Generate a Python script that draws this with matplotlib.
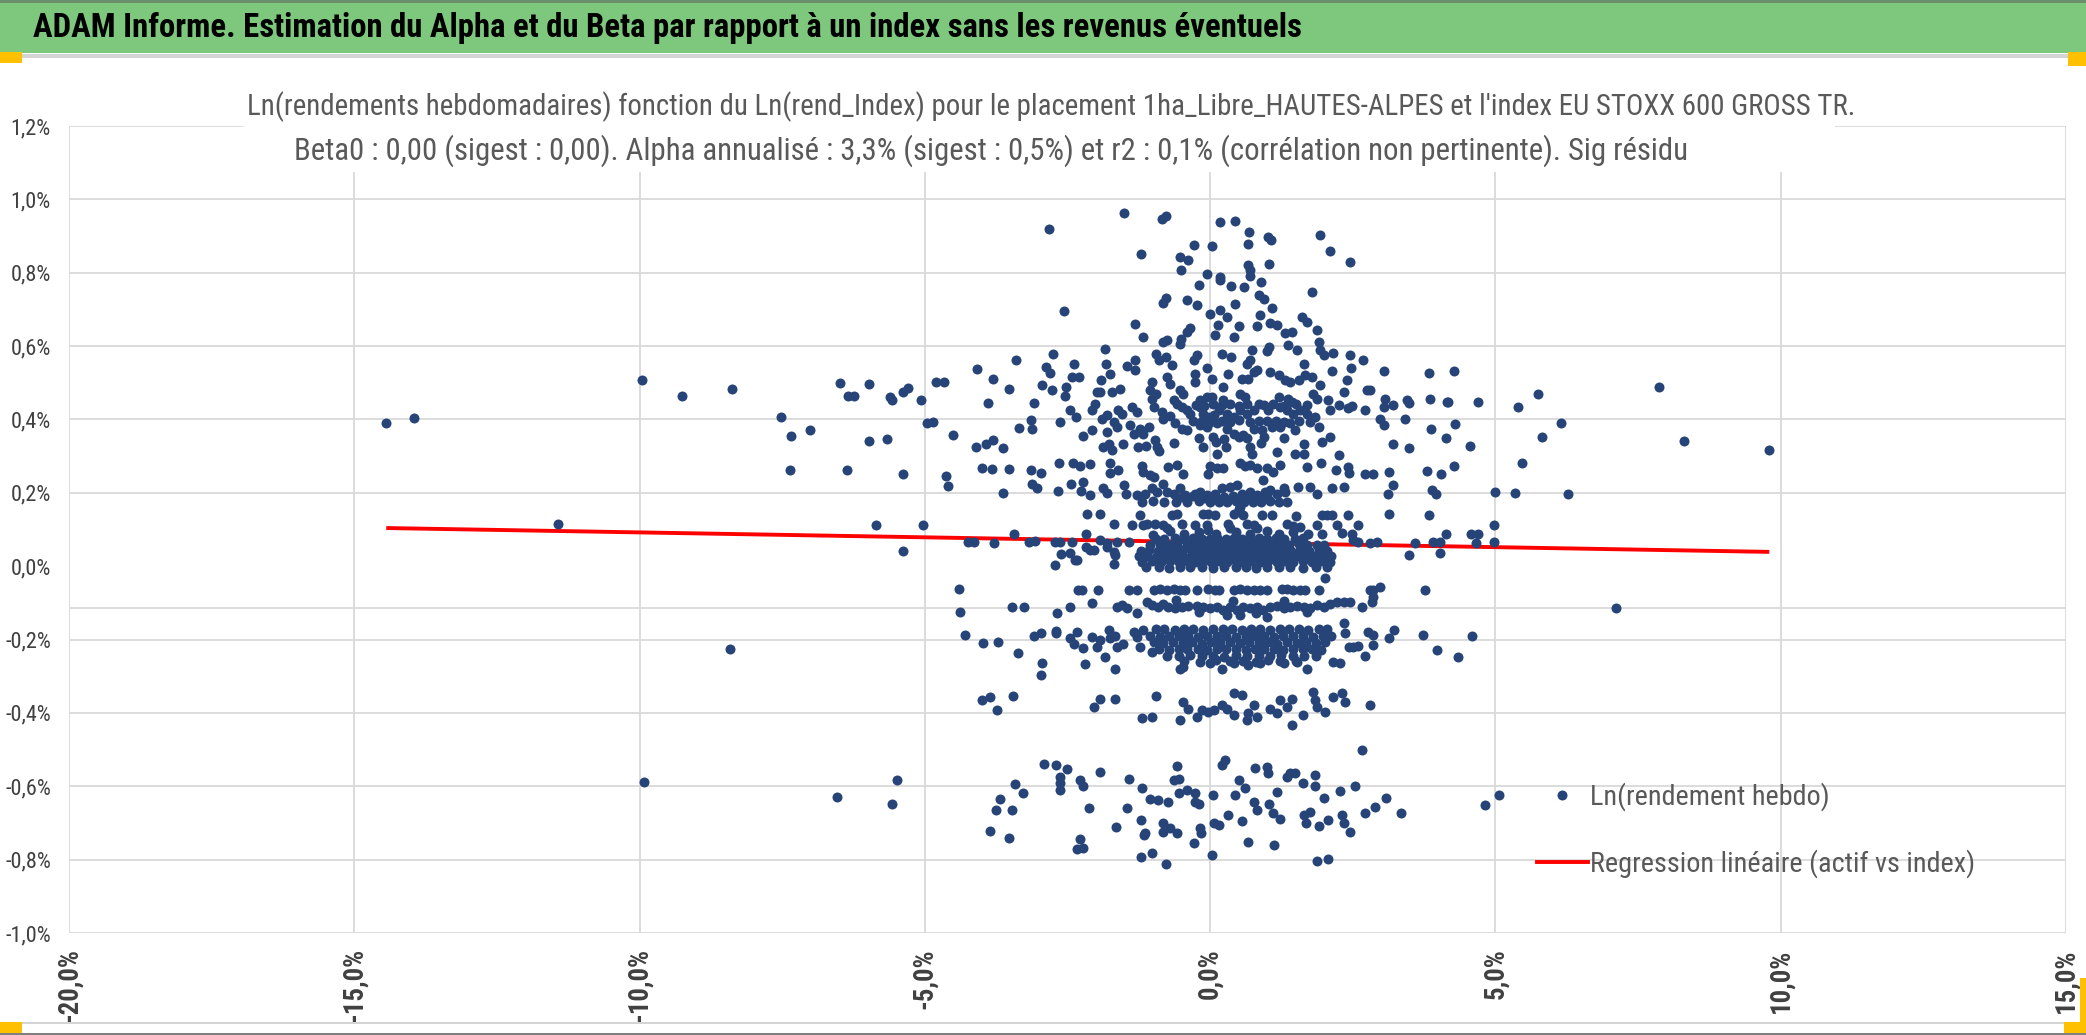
import os
import matplotlib
matplotlib.use("Agg")
import matplotlib.pyplot as plt
import matplotlib.patches as patches
from matplotlib import font_manager as fm
from matplotlib.lines import Line2D
import numpy as np

W, H = 2086, 1035
DOT = '#264478'
GRID = '#d9d9d9'
TXT = '#595959'

header = "ADAM Informe. Estimation du Alpha et du Beta par rapport à un index sans les revenus éventuels"
title1 = ("Ln(rendements hebdomadaires) fonction du Ln(rend_Index) pour le placement "
          "1ha_Libre_HAUTES-ALPES et l'index EU STOXX 600 GROSS TR.")
title2 = ("Beta0 : 0,00 (sigest : 0,00). Alpha annualisé : 3,3% (sigest : 0,5%) et r2 : 0,1% "
          "(corrélation non pertinente). Sig résidu")
label_pts = "Ln(rendement hebdo)"
label_reg = "Regression linéaire (actif vs index)"

x_ticks = [-20, -15, -10, -5, 0, 5, 10, 15]
y_ticks = [-1.0, -0.8, -0.6, -0.4, -0.2, 0.0, 0.2, 0.4, 0.6, 0.8, 1.0, 1.2]
axis_cross = -0.115   # horizontal axis line drawn by the source chart

# regression line end points (x %, y %)
reg_x = [-14.44, 9.80]
reg_y = [0.104, 0.039]

# weekly points, (index %, fund %)
far_pts = [(-14.44, 0.391), (-13.96, 0.404), (-11.43, 0.116), (-9.96, 0.507), (-9.25, 0.464),
           (-8.38, 0.484), (-8.42, -0.227), (-9.92, -0.588)]

left_pts = [(-7.52, 0.407), (-7.35, 0.355), (-7.36, 0.261), (-7.01, 0.370), (-6.48, 0.499),
            (-6.34, 0.464), (-6.25, 0.464), (-5.98, 0.496), (-6.36, 0.261), (-5.98, 0.342),
            (-5.86, 0.111), (-5.61, 0.460), (-5.58, 0.452), (-5.67, 0.347), (-5.39, 0.475),
            (-5.29, 0.486), (-5.38, 0.250), (-5.39, 0.041), (-5.06, 0.454), (-5.04, 0.111),
            (-4.96, 0.389), (-4.86, 0.392), (-4.81, 0.503), (-4.67, 0.503), (-4.50, 0.358),
            (-4.63, 0.246), (-4.59, 0.219), (-4.41, -0.063), (-4.38, -0.124), (-4.30, -0.188),
            (-4.25, 0.065), (-4.14, 0.065), (-4.08, 0.537), (-3.81, 0.511), (-3.89, 0.444),
            (-4.11, 0.324), (-3.93, 0.332), (-3.80, 0.345), (-4.00, 0.267), (-3.83, 0.264),
            (-3.78, 0.063), (-3.98, -0.209), (-3.71, -0.207), (-3.86, -0.357), (-3.99, -0.365),
            (-3.74, -0.392), (-6.54, -0.628), (-5.49, -0.584), (-5.58, -0.647), (-3.68, -0.635),
            (-3.76, -0.664), (-3.85, -0.723)]

upper_pts = [(-1.51, 0.964), (-2.82, 0.920), (-0.84, 0.947), (-0.78, 0.956), (0.18, 0.938),
             (0.43, 0.941), (0.68, 0.911), (0.67, 0.879), (1.01, 0.897), (1.06, 0.888),
             (1.92, 0.904), (2.10, 0.858), (2.45, 0.829), (-0.29, 0.876), (0.04, 0.873),
             (-1.21, 0.850), (-0.53, 0.843), (-0.39, 0.834), (-0.51, 0.808), (-0.06, 0.796),
             (0.67, 0.820), (0.69, 0.808), (0.70, 0.790), (1.04, 0.823), (0.18, 0.787),
             (0.18, 0.779), (-0.20, 0.767), (0.36, 0.763), (0.60, 0.761), (0.89, 0.775),
             (1.78, 0.747), (-0.78, 0.732), (-0.83, 0.718), (-0.41, 0.725), (-0.23, 0.711),
             (0.44, 0.716), (0.86, 0.738), (0.94, 0.728), (1.08, 0.704), (-2.56, 0.695),
             (-0.01, 0.688), (0.18, 0.699), (0.30, 0.679), (-1.31, 0.659), (-0.35, 0.648),
             (-0.40, 0.639), (0.13, 0.657), (0.51, 0.654), (0.88, 0.684), (0.82, 0.654),
             (1.05, 0.663), (1.17, 0.657), (1.61, 0.679), (1.69, 0.666), (1.87, 0.645),
             (-1.18, 0.625), (0.08, 0.629), (0.41, 0.625), (1.31, 0.636), (1.43, 0.639),
             (-0.51, 0.620), (-0.53, 0.607), (-0.82, 0.611), (-0.75, 0.616), (-1.85, 0.593),
             (1.37, 0.602), (1.52, 0.590), (1.90, 0.611), (1.93, 0.589), (1.99, 0.575),
             (0.99, 0.587), (1.04, 0.598), (0.73, 0.589), (0.20, 0.579), (0.36, 0.569),
             (-0.23, 0.575), (-0.28, 0.561), (-0.95, 0.578), (-0.90, 0.561), (-0.78, 0.570),
             (-0.67, 0.548), (-1.31, 0.561), (-1.46, 0.545), (-1.31, 0.536), (-1.82, 0.552),
             (-1.75, 0.525), (-2.76, 0.578), (-3.40, 0.563), (-2.87, 0.543), (-2.80, 0.527),
             (-2.39, 0.550), (-2.42, 0.516), (-2.29, 0.516), (2.16, 0.581), (2.45, 0.575),
             (2.47, 0.539), (2.68, 0.561), (2.14, 0.531), (1.65, 0.550), (0.64, 0.552),
             (0.70, 0.561), (-0.05, 0.539), (-0.26, 0.525), (-0.26, 0.502), (0.04, 0.509),
             (0.32, 0.525), (0.76, 0.530), (0.82, 0.534), (1.05, 0.530), (1.21, 0.520),
             (1.31, 0.507), (1.40, 0.502), (1.55, 0.507), (1.66, 0.520), (1.78, 0.516),
             (2.39, 0.507), (3.04, 0.531), (3.84, 0.528), (1.93, 0.493), (0.55, 0.509),
             (0.67, 0.509), (0.23, 0.489), (-0.76, 0.516), (-0.71, 0.496), (-1.02, 0.502),
             (-1.05, 0.480), (-1.91, 0.507), (-2.52, 0.489), (-2.95, 0.493), (-3.52, 0.484),
             (-2.77, 0.481), (-2.55, 0.463), (-1.99, 0.474), (-1.93, 0.475), (-1.72, 0.475),
             (-1.58, 0.484), (-0.53, 0.480), (-0.47, 0.470), (-0.18, 0.452), (-0.06, 0.461),
             (0.03, 0.461), (0.23, 0.452), (0.53, 0.470), (0.61, 0.461), (1.20, 0.461),
             (1.37, 0.457), (1.43, 0.448), (1.81, 0.470), (1.87, 0.457), (2.34, 0.475),
             (2.75, 0.480), (2.80, 0.480), (3.07, 0.457), (3.86, 0.457), (4.15, 0.448),
             (3.45, 0.452), (3.48, 0.445), (3.20, 0.439), (2.07, 0.452), (2.10, 0.425),
             (2.25, 0.439), (2.42, 0.430), (2.48, 0.436), (2.72, 0.427), (3.04, 0.434),
             (-3.08, 0.445), (-2.45, 0.427), (-2.35, 0.407), (-2.07, 0.425), (-2.02, 0.443),
             (-1.89, 0.402), (-1.81, 0.411), (-1.61, 0.425), (-1.55, 0.416), (-1.37, 0.434),
             (-1.29, 0.421), (-1.02, 0.457), (-0.98, 0.434), (-0.64, 0.452), (-0.58, 0.443),
             (-0.50, 0.434), (-0.41, 0.425), (-0.35, 0.416), (-0.18, 0.434), (-0.12, 0.416),
             (-0.03, 0.407), (0.06, 0.411), (0.15, 0.425), (0.29, 0.416), (0.41, 0.407),
             (0.53, 0.425), (0.64, 0.416), (0.76, 0.425), (0.85, 0.443), (1.02, 0.427),
             (1.23, 0.434), (1.34, 0.425), (1.46, 0.416), (1.58, 0.425), (1.69, 0.416),
             (1.84, 0.407), (1.90, 0.380), (-0.82, 0.402), (-3.14, 0.398), (-3.12, 0.375),
             (-3.35, 0.378), (-2.64, 0.393), (-2.22, 0.354), (-2.07, 0.372), (-1.80, 0.366),
             (-1.69, 0.393), (-1.64, 0.380), (-1.40, 0.384), (-1.34, 0.361), (-1.23, 0.375),
             (-1.17, 0.361), (-1.08, 0.380), (-0.49, 0.375), (-0.18, 0.384), (-0.06, 0.380),
             (0.12, 0.389), (0.29, 0.375), (0.41, 0.361), (0.58, 0.357), (0.76, 0.375),
             (0.91, 0.371), (1.08, 0.380), (1.23, 0.380), (1.40, 0.389), (1.49, 0.371),
             (2.98, 0.400), (3.04, 0.384), (3.41, 0.400), (3.87, 0.375), (4.14, 0.350),
             (3.21, 0.334), (3.49, 0.321), (1.96, 0.339), (2.10, 0.352), (1.64, 0.334),
             (-3.63, 0.321), (-1.87, 0.325), (-1.78, 0.334), (-1.72, 0.318), (-1.52, 0.334),
             (-1.27, 0.325), (-1.12, 0.328), (-0.96, 0.343), (-0.93, 0.325), (-0.89, 0.314),
             (-0.63, 0.336), (-0.12, 0.325), (0.11, 0.339), (0.12, 0.307), (0.27, 0.325),
             (0.70, 0.325), (0.73, 0.307), (0.89, 0.336), (1.17, 0.312), (2.25, 0.302),
             (1.49, 0.305), (1.64, 0.305), (-1.75, 0.282), (-3.52, 0.265), (-3.14, 0.262),
             (-2.97, 0.253), (-2.65, 0.280), (-2.41, 0.280), (-2.28, 0.272), (-2.11, 0.278),
             (-1.75, 0.254), (-1.61, 0.263), (-1.20, 0.272), (-1.17, 0.257), (-1.05, 0.248),
             (-0.99, 0.243), (-0.73, 0.271), (-0.58, 0.275), (-0.47, 0.252), (0.00, 0.272),
             (0.12, 0.269), (0.22, 0.269), (-0.03, 0.252), (0.53, 0.280), (0.61, 0.272),
             (0.70, 0.275), (0.82, 0.269), (0.99, 0.269), (1.11, 0.257), (1.22, 0.275),
             (0.93, 0.234), (1.70, 0.271), (1.95, 0.280), (2.21, 0.262), (2.42, 0.271),
             (2.44, 0.254), (2.72, 0.252), (2.86, 0.250), (3.14, 0.257), (3.80, 0.259),
             (4.04, 0.250), (-3.13, 0.225), (-3.04, 0.214), (-2.43, 0.225), (-2.22, 0.230),
             (-3.63, 0.200), (-2.67, 0.205), (-2.27, 0.205), (-2.10, 0.195), (-1.88, 0.212),
             (-1.81, 0.200), (-1.51, 0.221), (-1.47, 0.198), (-1.29, 0.193), (-1.14, 0.198),
             (-1.02, 0.212), (-0.93, 0.203), (-0.82, 0.225), (-0.76, 0.203), (-0.64, 0.198),
             (-0.53, 0.212), (-0.44, 0.193), (-0.26, 0.198), (-0.18, 0.203), (-0.06, 0.193),
             (0.09, 0.198), (0.20, 0.212), (0.35, 0.216), (0.47, 0.221), (0.55, 0.198),
             (0.70, 0.203), (0.82, 0.193), (0.96, 0.203), (1.05, 0.207), (1.17, 0.198),
             (1.29, 0.212), (1.31, 0.203), (1.54, 0.216), (1.75, 0.216), (1.88, 0.196),
             (2.14, 0.212), (2.34, 0.216), (3.11, 0.198), (3.21, 0.221), (3.89, 0.207),
             (3.95, 0.198), (0.53, 0.160)]

lower_pts = [(-2.15, 0.142), (-1.93, 0.142), (-1.23, 0.139), (-0.67, 0.139), (-0.58, 0.142),
             (-0.12, 0.142), (-0.03, 0.142), (0.09, 0.139), (0.41, 0.142), (0.51, 0.157),
             (0.58, 0.139), (0.91, 0.139), (1.08, 0.139), (1.51, 0.136), (1.96, 0.139),
             (2.04, 0.139), (2.13, 0.139), (2.42, 0.139), (3.14, 0.142), (3.83, 0.139),
             (-1.69, 0.114), (-1.37, 0.112), (-1.17, 0.112), (-1.11, 0.116), (-0.96, 0.114),
             (-0.82, 0.112), (-0.76, 0.103), (-0.50, 0.114), (-0.26, 0.112), (-0.06, 0.112),
             (-0.03, 0.098), (0.32, 0.116), (0.35, 0.103), (0.64, 0.114), (0.76, 0.112),
             (0.82, 0.103), (1.34, 0.114), (1.46, 0.109), (1.58, 0.107), (1.87, 0.112),
             (2.22, 0.112), (2.60, 0.112), (1.72, 0.089), (1.96, 0.089), (2.31, 0.091),
             (2.48, 0.089), (-3.43, 0.089), (-2.17, 0.089), (-3.17, 0.066), (-3.07, 0.069),
             (-2.72, 0.066), (-2.64, 0.066), (-2.42, 0.066), (-1.93, 0.071), (-1.81, 0.062),
             (-1.64, 0.066), (-1.43, 0.066), (2.51, 0.071), (2.60, 0.066), (2.80, 0.062),
             (2.92, 0.066), (3.59, 0.064), (3.91, 0.066), (4.03, 0.066), (4.14, 0.089),
             (3.48, 0.030), (4.02, 0.035), (-2.62, 0.033), (-2.45, 0.035), (-2.37, 0.018),
             (-2.34, 0.016), (-2.72, 0.003), (-2.17, 0.053), (-2.11, 0.044), (-2.04, 0.044),
             (-1.69, 0.039), (-1.81, 0.053), (-1.66, 0.030), (-1.69, 0.005), (2.02, -0.031),
             (-1.00, 0.085), (-0.70, 0.095), (-0.45, 0.088), (-0.20, 0.093), (0.10, 0.087),
             (0.45, 0.092), (0.70, 0.088), (1.00, 0.095), (1.20, 0.087), (1.45, 0.092),
             # band near -0,06 %
             (-2.31, -0.065), (-2.25, -0.064), (-1.96, -0.064), (-1.43, -0.064), (-1.29, -0.064),
             (-0.99, -0.065), (-0.88, -0.063), (-0.76, -0.065), (-0.64, -0.063), (-0.53, -0.064),
             (-0.44, -0.066), (-0.23, -0.064), (-0.03, -0.063), (0.09, -0.064), (0.15, -0.066),
             (0.41, -0.065), (0.53, -0.061), (0.64, -0.066), (0.76, -0.064), (0.88, -0.064),
             (0.99, -0.066), (1.26, -0.061), (1.34, -0.061), (1.46, -0.066), (1.58, -0.066),
             (1.66, -0.066), (1.90, -0.066), (2.80, -0.065), (2.86, -0.064), (2.98, -0.056),
             (3.77, -0.064),
             # band near -0,1 %
             (-3.48, -0.111), (-3.27, -0.111), (-2.68, -0.127), (-2.45, -0.111), (-2.07, -0.100),
             (-1.64, -0.111), (-1.55, -0.106), (-1.46, -0.115), (-1.29, -0.127), (-1.11, -0.097),
             (-1.02, -0.106), (-0.91, -0.111), (-0.82, -0.102), (-0.73, -0.111), (-0.61, -0.115),
             (-0.50, -0.111), (-0.38, -0.109), (-0.23, -0.109), (-0.12, -0.111), (0.00, -0.115),
             (0.12, -0.111), (0.23, -0.120), (0.35, -0.111), (0.47, -0.120), (0.58, -0.111),
             (0.70, -0.115), (0.82, -0.111), (0.93, -0.120), (1.05, -0.111), (1.17, -0.109),
             (1.29, -0.115), (1.40, -0.111), (1.52, -0.109), (1.64, -0.111), (1.75, -0.115),
             (1.87, -0.106), (1.99, -0.111), (2.10, -0.102), (2.22, -0.097), (2.34, -0.097),
             (2.45, -0.097), (2.66, -0.111), (2.84, -0.097), (2.86, -0.084), (0.29, -0.133),
             (0.53, -0.133), (0.99, -0.138), (-0.60, -0.092), (-0.20, -0.125), (0.40, -0.095),
             (0.80, -0.128), (1.30, -0.095), (1.70, -0.125),
             # band near -0,2 %, edges
             (-3.36, -0.238), (-3.09, -0.191), (-2.97, -0.182), (-2.95, -0.265), (-2.97, -0.297),
             (-2.70, -0.176), (-2.70, -0.183), (-2.45, -0.197), (-2.39, -0.211), (-2.34, -0.179),
             (-2.22, -0.224), (-2.19, -0.267), (-2.07, -0.193), (-1.99, -0.220), (-1.93, -0.202),
             (-1.84, -0.247), (-1.78, -0.173), (-1.75, -0.197), (-1.66, -0.191), (-1.64, -0.220),
             (-1.66, -0.279), (-1.52, -0.211), (-1.34, -0.179), (-1.29, -0.193), (-1.23, -0.220),
             (-1.17, -0.173), (-1.02, -0.233), (-0.53, -0.279), (-0.47, -0.274), (0.00, -0.265),
             (0.20, -0.279), (0.41, -0.265), (0.67, -0.270), (0.88, -0.265), (1.29, -0.265),
             (1.52, -0.261), (1.69, -0.279), (2.16, -0.261), (2.28, -0.265), (2.37, -0.183),
             (2.43, -0.220), (2.51, -0.220), (2.60, -0.218), (2.72, -0.245), (2.77, -0.179),
             (2.86, -0.215), (2.86, -0.188), (3.13, -0.197), (3.22, -0.174), (3.73, -0.188),
             (3.98, -0.229), (2.34, -0.156),
             # band near -0,4 %
             (-3.46, -0.354), (-2.04, -0.383), (-1.93, -0.361), (-1.66, -0.361), (-1.20, -0.415),
             (-1.02, -0.411), (-0.95, -0.354), (-0.53, -0.418), (-0.47, -0.370), (-0.38, -0.388),
             (-0.23, -0.411), (-0.15, -0.392), (-0.03, -0.397), (0.06, -0.392), (0.20, -0.379),
             (0.29, -0.388), (0.41, -0.406), (0.41, -0.347), (0.55, -0.352), (0.64, -0.420),
             (0.67, -0.401), (0.76, -0.379), (0.82, -0.411), (1.05, -0.388), (1.17, -0.401),
             (1.22, -0.365), (1.34, -0.383), (1.43, -0.361), (1.43, -0.433), (1.62, -0.406),
             (1.81, -0.342), (1.84, -0.365), (1.87, -0.383), (2.02, -0.397), (2.16, -0.356),
             (2.31, -0.345), (2.37, -0.370), (2.80, -0.379),
             # -0,5 % to -0,8 %
             (2.66, -0.500), (-2.91, -0.538), (-2.70, -0.542), (-2.51, -0.554), (-2.63, -0.574),
             (-2.63, -0.592), (-2.64, -0.609), (-2.28, -0.583), (-2.23, -0.599), (-1.93, -0.560),
             (-3.42, -0.594), (-3.28, -0.619), (-3.48, -0.665), (-3.52, -0.742), (-2.13, -0.660),
             (-2.28, -0.745), (-2.34, -0.772), (-2.23, -0.768), (-1.65, -0.710), (-1.43, -0.579),
             (-1.45, -0.658), (-1.20, -0.606), (-1.06, -0.635), (-0.91, -0.638), (-0.73, -0.642),
             (-1.22, -0.692), (-1.14, -0.728), (-1.16, -0.733), (-1.22, -0.792), (-1.02, -0.781),
             (-0.78, -0.812), (-0.82, -0.701), (-0.83, -0.724), (-0.70, -0.715), (-0.58, -0.728),
             (-0.58, -0.545), (-0.64, -0.583), (-0.54, -0.579), (-0.54, -0.619), (-0.41, -0.610),
             (-0.26, -0.619), (-0.26, -0.642), (-0.19, -0.647), (-0.18, -0.715), (-0.16, -0.728),
             (-0.29, -0.756), (0.05, -0.624), (0.06, -0.701), (0.16, -0.706), (0.03, -0.787),
             (0.20, -0.542), (0.26, -0.529), (0.32, -0.678), (0.44, -0.624), (0.51, -0.583),
             (0.61, -0.606), (0.55, -0.694), (0.67, -0.751), (0.76, -0.642), (0.82, -0.664),
             (0.79, -0.551), (0.99, -0.547), (1.02, -0.565), (1.04, -0.648), (1.11, -0.672),
             (1.22, -0.688), (1.17, -0.615), (1.12, -0.760), (1.34, -0.574), (1.40, -0.565),
             (1.49, -0.563), (1.62, -0.592), (1.83, -0.569), (1.84, -0.599), (1.99, -0.633),
             (1.64, -0.678), (1.68, -0.699), (1.75, -0.669), (1.90, -0.708), (2.07, -0.692),
             (2.27, -0.612), (2.31, -0.678), (2.34, -0.699), (2.45, -0.724), (2.54, -0.599),
             (2.72, -0.674), (2.89, -0.656), (3.08, -0.633), (3.35, -0.674), (1.87, -0.805),
             (2.07, -0.799)]

right_pts = [(4.28, 0.533), (4.16, 0.447), (4.70, 0.447), (4.29, 0.387), (4.55, 0.328),
             (4.28, 0.272), (5.00, 0.202), (5.34, 0.199), (6.28, 0.196), (5.40, 0.433),
             (5.74, 0.469), (6.15, 0.389), (5.81, 0.352), (5.46, 0.281), (7.86, 0.489),
             (8.31, 0.340), (9.80, 0.318), (4.98, 0.111), (4.57, 0.087), (4.70, 0.087),
             (4.66, 0.062), (4.98, 0.065), (7.12, -0.114), (4.59, -0.190), (4.34, -0.248),
             (4.82, -0.652), (5.07, -0.623)]

# the dense cluster around 0 %
core_pts = [(-0.95, 0.075), (-0.80, 0.073), (-0.62, 0.076), (-0.45, 0.074), (-0.30, 0.077),
            (-0.15, 0.075), (0.00, 0.073), (0.12, 0.076), (0.28, 0.074), (0.42, 0.077),
            (0.55, 0.075), (0.70, 0.073), (0.85, 0.076), (1.00, 0.074), (1.15, 0.077),
            (1.30, 0.075), (1.48, 0.073), (1.62, 0.076),
            (-1.05, 0.058), (-0.88, 0.060), (-0.72, 0.057), (-0.58, 0.059), (-0.40, 0.058),
            (-0.25, 0.061), (-0.10, 0.057), (0.05, 0.059), (0.20, 0.058), (0.33, 0.060),
            (0.48, 0.057), (0.62, 0.059), (0.78, 0.058), (0.92, 0.061), (1.08, 0.057),
            (1.22, 0.059), (1.38, 0.058), (1.55, 0.060), (1.70, 0.057), (1.88, 0.059),
            (2.00, 0.058),
            (-1.22, 0.042), (-1.08, 0.044), (-0.92, 0.041), (-0.78, 0.043), (-0.62, 0.042),
            (-0.48, 0.045), (-0.32, 0.041), (-0.18, 0.043), (-0.02, 0.042), (0.12, 0.044),
            (0.27, 0.041), (0.40, 0.043), (0.55, 0.042), (0.70, 0.045), (0.84, 0.041),
            (0.98, 0.043), (1.12, 0.042), (1.28, 0.044), (1.42, 0.041), (1.58, 0.043),
            (1.73, 0.042), (1.90, 0.044), (2.05, 0.041),
            (-1.25, 0.027), (-1.10, 0.029), (-0.95, 0.026), (-0.80, 0.028), (-0.65, 0.027),
            (-0.50, 0.030), (-0.35, 0.026), (-0.20, 0.028), (-0.05, 0.027), (0.08, 0.029),
            (0.22, 0.026), (0.36, 0.028), (0.50, 0.027), (0.65, 0.030), (0.80, 0.026),
            (0.94, 0.028), (1.08, 0.027), (1.24, 0.029), (1.38, 0.026), (1.52, 0.028),
            (1.68, 0.027), (1.84, 0.029), (2.00, 0.026), (2.12, 0.028),
            (-1.20, 0.012), (-1.02, 0.014), (-0.86, 0.011), (-0.70, 0.013), (-0.55, 0.012),
            (-0.40, 0.015), (-0.26, 0.011), (-0.12, 0.013), (0.02, 0.012), (0.16, 0.014),
            (0.30, 0.011), (0.45, 0.013), (0.58, 0.012), (0.72, 0.015), (0.88, 0.011),
            (1.02, 0.013), (1.17, 0.012), (1.32, 0.014), (1.46, 0.011), (1.62, 0.013),
            (1.78, 0.012), (1.95, 0.014), (2.10, 0.011),
            (-1.12, -0.003), (-0.90, -0.001), (-0.72, -0.004), (-0.52, -0.002), (-0.35, -0.003),
            (-0.15, -0.001), (0.05, -0.004), (0.25, -0.002), (0.45, -0.003), (0.62, -0.001),
            (0.80, -0.004), (1.00, -0.002), (1.20, -0.003), (1.40, -0.001), (1.62, -0.004),
            (1.85, -0.002), (2.05, -0.003)]

# dense part of the band near -0,2 %
band2_pts = [(-0.95, -0.172), (-0.80, -0.170), (-0.62, -0.173), (-0.45, -0.171), (-0.30, -0.172),
             (-0.12, -0.174), (0.05, -0.170), (0.22, -0.172), (0.38, -0.171), (0.55, -0.173),
             (0.72, -0.170), (0.88, -0.172), (1.05, -0.174), (1.22, -0.171), (1.38, -0.172),
             (1.55, -0.170), (1.72, -0.173), (1.90, -0.171), (2.05, -0.172),
             (-1.05, -0.190), (-0.88, -0.192), (-0.72, -0.189), (-0.55, -0.191), (-0.38, -0.190),
             (-0.22, -0.193), (-0.05, -0.189), (0.12, -0.191), (0.28, -0.190), (0.45, -0.192),
             (0.62, -0.189), (0.78, -0.191), (0.95, -0.190), (1.12, -0.193), (1.28, -0.189),
             (1.45, -0.191), (1.62, -0.190), (1.80, -0.192), (1.98, -0.189), (2.12, -0.191),
             (-0.98, -0.208), (-0.82, -0.210), (-0.65, -0.207), (-0.48, -0.209), (-0.32, -0.208),
             (-0.15, -0.211), (0.02, -0.207), (0.18, -0.209), (0.35, -0.208), (0.52, -0.210),
             (0.68, -0.207), (0.85, -0.209), (1.02, -0.208), (1.18, -0.211), (1.35, -0.207),
             (1.52, -0.209), (1.68, -0.208), (1.85, -0.210), (2.02, -0.207),
             (-0.90, -0.226), (-0.72, -0.228), (-0.55, -0.225), (-0.40, -0.227), (-0.22, -0.226),
             (-0.05, -0.229), (0.12, -0.225), (0.28, -0.227), (0.45, -0.226), (0.62, -0.228),
             (0.78, -0.225), (0.95, -0.227), (1.12, -0.226), (1.28, -0.229), (1.45, -0.225),
             (1.62, -0.227), (1.78, -0.226), (1.95, -0.228),
             (-0.75, -0.244), (-0.55, -0.246), (-0.35, -0.243), (-0.15, -0.245), (0.05, -0.244),
             (0.25, -0.247), (0.45, -0.243), (0.65, -0.245), (0.85, -0.244), (1.05, -0.246),
             (1.25, -0.243), (1.45, -0.245), (1.65, -0.244), (1.85, -0.246),
             (-0.45, -0.258), (-0.18, -0.260), (0.10, -0.257), (0.35, -0.259), (0.58, -0.258),
             (0.80, -0.261), (1.02, -0.257), (1.22, -0.259), (1.50, -0.258)]

# dense parts of the bands near 0,4 % and 0,2 %
band_up_pts = [(-0.25, 0.440), (-0.10, 0.438), (0.05, 0.442), (0.20, 0.439), (0.35, 0.441),
               (0.50, 0.438), (0.65, 0.443), (0.95, 0.439), (1.10, 0.441), (1.30, 0.438),
               (1.50, 0.442), (1.70, 0.439),
               (-0.30, 0.395), (-0.15, 0.397), (0.00, 0.393), (0.20, 0.396), (0.35, 0.394),
               (0.50, 0.398), (0.70, 0.393), (0.85, 0.396), (1.00, 0.395), (1.15, 0.397),
               (1.30, 0.393), (1.55, 0.396), (1.75, 0.394),
               (-0.20, 0.350), (0.05, 0.352), (0.25, 0.348), (0.50, 0.351), (0.65, 0.349),
               (0.95, 0.352), (1.30, 0.350), (-0.95, 0.470), (-0.85, 0.420), (-0.70, 0.410),
               (-0.62, 0.390), (-0.40, 0.370),
               (-1.20, 0.175), (-1.00, 0.177), (-0.80, 0.174), (-0.60, 0.176), (-0.40, 0.175),
               (-0.20, 0.178), (0.00, 0.174), (0.15, 0.176), (0.30, 0.175), (0.45, 0.177),
               (0.60, 0.174), (0.75, 0.176), (0.90, 0.175), (1.05, 0.178), (1.20, 0.174),
               (1.35, 0.176),
               (-0.50, 0.188), (-0.30, 0.190), (-0.10, 0.187), (0.08, 0.189), (0.25, 0.188),
               (0.40, 0.191), (0.62, 0.187), (0.70, 0.189), (0.88, 0.188), (1.00, 0.190)]

groups = [far_pts, left_pts, upper_pts, lower_pts, right_pts, core_pts, band2_pts, band_up_pts]
pts = np.array([p for g in groups for p in g])
px, py = pts[:, 0], pts[:, 1]


def find_font(stems, fallback):
    files = {os.path.splitext(os.path.basename(f.fname))[0].lower(): f.fname
             for f in fm.fontManager.ttflist}
    for s in stems:
        if s.lower() in files:
            return fm.FontProperties(fname=files[s.lower()])
    return fallback


# a narrow face close to the Calibri of the source, if one is installed
REG = find_font(['LiberationSansNarrow-Regular', 'RobotoCondensed-Regular', 'Roboto-Condensed',
                 'NotoSans-Condensed', 'OpenSans-CondensedRegular', 'OpenSans_Condensed-Regular',
                 'DejaVuSansCondensed'],
                fm.FontProperties(family='DejaVu Sans'))
BOLD = find_font(['LiberationSansNarrow-Bold', 'RobotoCondensed-Bold', 'Roboto-BoldCondensed',
                  'NotoSans-CondensedBold', 'OpenSans-CondensedBold', 'OpenSans_Condensed-Bold',
                  'DejaVuSansCondensed-Bold'],
                 fm.FontProperties(family='DejaVu Sans', weight='bold'))


def pct(v):
    return f"{v:.1f}%".replace('.', ',')


fig = plt.figure(figsize=(W / 100, H / 100), dpi=100)
fig.patch.set_facecolor('white')
renderer = fig.canvas.get_renderer()


def sized(fp, s, width_px):
    # font size that gives the text the width it has in the source picture
    p = fp.copy()
    p.set_size(20)
    t = fig.text(0, 0, s, fontproperties=p)
    w = t.get_window_extent(renderer).width
    t.remove()
    p.set_size(20 * width_px / w)
    return p


# green banner
fig.patches.append(patches.Rectangle((0, 1 - 53 / H), 1, 53 / H, transform=fig.transFigure,
                                     facecolor='#7ec87e', edgecolor='none', zorder=0))
fig.patches.append(patches.Rectangle((0, 1 - 3 / H), 1, 3 / H, transform=fig.transFigure,
                                     facecolor='#6b8e6b', edgecolor='none', zorder=0))
fig.patches.append(patches.Rectangle((0, 1 - 58 / H), 1, 4 / H, transform=fig.transFigure,
                                     facecolor='#d4d4d4', edgecolor='none', zorder=0))
fig.text(33 / W, 1 - 28 / H, header, ha='left', va='center', color='black',
         fontproperties=sized(BOLD, header, 1269))

ax = fig.add_axes([69 / W, (H - 933) / H, (2066 - 69) / W, (933 - 126) / H])
ax.set_xlim(x_ticks[0], x_ticks[-1])
ax.set_ylim(y_ticks[0], y_ticks[-1])
for s in ax.spines.values():
    s.set_visible(False)

for v in x_ticks:
    ax.axvline(v, color=GRID, lw=1.3, zorder=0)
for v in y_ticks:
    if v != 0:
        ax.axhline(v, color=GRID, lw=1.3, zorder=0)
ax.axhline(axis_cross, color=GRID, lw=1.3, zorder=0)

ax.plot(reg_x, reg_y, color='#ff0000', lw=2.8, solid_capstyle='butt', zorder=2)
ax.plot(px, py, ls='none', marker='o', ms=7.2, color=DOT, mew=0, zorder=3)

ax.set_xticks(x_ticks)
ax.set_xticklabels([pct(v) for v in x_ticks], rotation=90, color='#404040')
ax.set_yticks(y_ticks)
ax.set_yticklabels([pct(v) for v in y_ticks], color='#404040')
xfp = sized(BOLD, '-20,0%', 74)
yfp = sized(REG, '-0,8%', 46)
for lab in ax.get_xticklabels():
    lab.set_fontproperties(xfp)
for lab in ax.get_yticklabels():
    lab.set_fontproperties(yfp)
ax.tick_params(axis='both', length=0)
ax.tick_params(axis='x', pad=11)
ax.tick_params(axis='y', pad=13)

# title block with white background over the top gridline
fig.patches.append(patches.Rectangle((244 / W, 1 - 172 / H), (1835 - 244) / W, 90 / H,
                                     transform=fig.transFigure, facecolor='white',
                                     edgecolor='none', zorder=5))
fig.text(1051 / W, 1 - 107 / H, title1, ha='center', va='center', color=TXT,
         fontproperties=sized(REG, title1, 1604), zorder=6)
fig.text(991 / W, 1 - 151 / H, title2, ha='center', va='center', color=TXT,
         fontproperties=sized(REG, title2, 1393), zorder=6)

leg_fp = sized(REG, label_reg, 383)
handles = [Line2D([], [], ls='none', marker='o', ms=7.2, color=DOT, mew=0),
           Line2D([], [], color='#ff0000', lw=2.8)]
leg = ax.legend(handles, [label_pts, label_reg], loc='center left',
                bbox_to_anchor=(1537 / W, 1 - 830 / H), bbox_transform=fig.transFigure,
                frameon=False, borderpad=0, borderaxespad=0, handlelength=1.8,
                handletextpad=0.1, labelspacing=1.35, prop=leg_fp)
for t in leg.get_texts():
    t.set_color(TXT)

# selection handles and frame of the source chart
for (x0, y0, w, h) in [(0, 52, 22, 11), (2068, 52, 18, 14), (2080, 978, 6, 44),
                       (2064, 1022, 22, 11), (0, 1022, 22, 11)]:
    fig.patches.append(patches.Rectangle((x0 / W, 1 - (y0 + h) / H), w / W, h / H,
                                         transform=fig.transFigure, facecolor='#ffc000',
                                         edgecolor='none', zorder=7))
fig.patches.append(patches.Rectangle((22 / W, 1 - 1024 / H), 2042 / W, 2 / H,
                                     transform=fig.transFigure, facecolor='#d4d4d4',
                                     edgecolor='none', zorder=1))
fig.patches.append(patches.Rectangle((0, 0), 1, 2 / H, transform=fig.transFigure,
                                     facecolor='#7f7f7f', edgecolor='none', zorder=1))

fig.savefig('out.png', dpi=100)
